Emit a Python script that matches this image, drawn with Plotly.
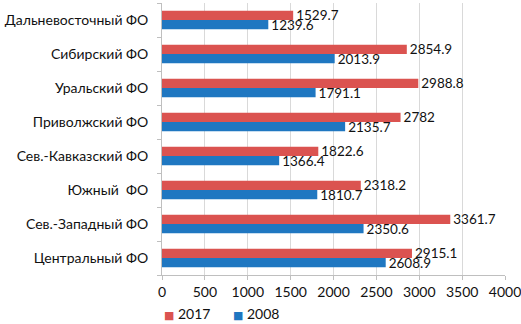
import plotly.graph_objects as go

categories = ["Центральный ФО", "Сев.-Западный ФО", "Южный\u00a0\u00a0ФО", "Сев.-Кавказский ФО",
              "Приволжский ФО", "Уральский ФО", "Сибирский ФО", "Дальневосточный ФО"]
values_2017 = [2915.1, 3361.7, 2318.2, 1822.6, 2782, 2988.8, 2854.9, 1529.7]
values_2008 = [2608.9, 2350.6, 1810.7, 1366.4, 2135.7, 1791.1, 2013.9, 1239.6]
series_names = ["2017", "2008"]
x_ticks = [0, 500, 1000, 1500, 2000, 2500, 3000, 3500, 4000]

RED = "#DB5350"
BLUE = "#1F77C1"
FONT = "Lato"

fig = go.Figure()
fig.add_trace(go.Bar(
    y=categories, x=values_2008, orientation="h", name=series_names[1],
    marker=dict(color=BLUE, line=dict(width=0)),
    text=[f"{v:g}" for v in values_2008], textposition="outside", constraintext="none",
    textfont=dict(size=13.5, color="#111"), cliponaxis=False, showlegend=False,
))
fig.add_trace(go.Bar(
    y=categories, x=values_2017, orientation="h", name=series_names[0],
    marker=dict(color=RED, line=dict(width=0)),
    text=[f"{v:g}" for v in values_2017], textposition="outside", constraintext="none",
    textfont=dict(size=13.5, color="#111"), cliponaxis=False, showlegend=False,
))

# legend drawn as text with coloured squares
for i, (name, col) in enumerate(zip(series_names, [RED, BLUE])):
    fig.add_annotation(
        xref="paper", yref="paper", x=0.0 + i * 0.2012, y=-0.14,
        xanchor="left", yanchor="middle", showarrow=False,
        text=f"<span style='color:{col};font-size:11px;font-family:DejaVu Sans'>■</span> {name}",
        font=dict(size=14, family=FONT, color="#111"),
    )

fig.update_layout(
    width=521, height=324,
    margin=dict(l=162, r=16, t=3, b=49),
    paper_bgcolor="white", plot_bgcolor="white",
    barmode="group", bargap=0.46, bargroupgap=0,
    font=dict(family=FONT, size=13, color="#111"),
    showlegend=False,
    xaxis=dict(range=[0, 4000], tickvals=x_ticks, ticktext=[str(t) for t in x_ticks],
               showgrid=True, gridcolor="#D9D9D9", gridwidth=1, automargin=False,
               showline=True, linecolor="#BFBFBF", ticks="outside", ticklen=4,
               tickcolor="#BFBFBF", zeroline=False, tickfont=dict(size=14),
               ticklabeloverflow="allow"),
    yaxis=dict(categoryorder="array", categoryarray=categories, automargin=False,
               showline=True, linecolor="#BFBFBF", ticks="outside", ticklen=4,
               tickcolor="#BFBFBF", tickson="boundaries", showgrid=False,
               tickfont=dict(size=14), ticklabelstandoff=10),
)

fig.write_html("out.html", config={"displayModeBar": False},
               post_script="document.body.style.margin='0';document.body.style.overflow='hidden';")
